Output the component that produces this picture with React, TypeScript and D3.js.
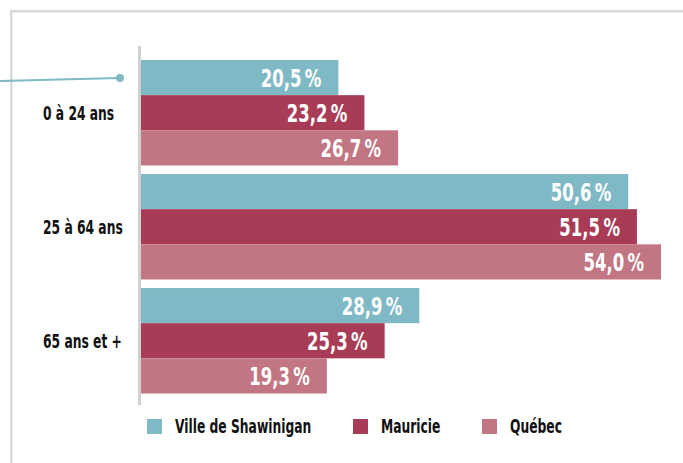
import React from "react";
import * as d3 from "d3";

const categories = ["0 à 24 ans", "25 à 64 ans", "65 ans et +"];
const series = ["Ville de Shawinigan", "Mauricie", "Québec"];
const shawinigan = [20.5, 50.6, 28.9];
const mauricie = [23.2, 51.5, 25.3];
const quebec = [26.7, 54.0, 19.3];
const colors = ["#7fb9c5", "#a83b55", "#c27683"];

const W = 683;
const H = 463;
const FONT = "'DejaVu Sans Condensed', 'DejaVu Sans', sans-serif";

export default function App() {
  const values = [shawinigan, mauricie, quebec];
  const x = d3.scaleLinear().domain([0, 54]).range([141, 661]);
  const y = d3.scaleBand<string>().domain(categories).range([60, 393.5]).paddingInner(0.075).paddingOuter(0);
  const yi = d3.scaleBand<string>().domain(series).range([0, y.bandwidth()]).padding(0);
  const fmt = (v: number) => v.toFixed(1).replace(".", ",") + "\u2009%";

  return (
    <svg width={W} height={H} style={{ position: "absolute", left: 0, top: 0 }}>
      <rect x={0} y={0} width={W} height={H} fill="#fff" />
      {/* frame */}
      <line x1={11.25} y1={11.25} x2={W} y2={11.25} stroke="#d9d9d9" strokeWidth={2.5} />
      <line x1={11.25} y1={10} x2={11.25} y2={H} stroke="#d9d9d9" strokeWidth={2.5} />
      {/* connector */}
      <line x1={0} y1={81} x2={120} y2={78} stroke="#7fb9c5" strokeWidth={2} />
      <circle cx={120} cy={78} r={4} fill="#7fb9c5" />
      {/* bars */}
      {categories.map((c, ci) => (
        <g key={c}>
          {series.map((s, si) => {
            const v = values[si][ci];
            const y0 = (y(c) as number) + (yi(s) as number);
            const bh = yi.bandwidth();
            return (
              <g key={s}>
                <rect x={x(0)} y={y0} width={x(v) - x(0)} height={bh} fill={colors[si]} />
                <text
                  transform={`translate(${x(v) - 17},${y0 + bh / 2 + 9.3}) scale(0.72,1)`}
                  textAnchor="end"
                  fontFamily={FONT}
                  fontWeight="bold"
                  fontSize={25.5}
                  fill="#fff"
                >
                  {fmt(v)}
                </text>
              </g>
            );
          })}
          <text
            transform={`translate(43,${(y(c) as number) + y.bandwidth() / 2 + 7}) scale(0.72,1)`}
            fontFamily={FONT}
            fontWeight="bold"
            fontSize={19}
            fill="#111"
          >
            {c}
          </text>
        </g>
      ))}
      {/* axis line */}
      <line x1={139.5} y1={46} x2={139.5} y2={405} stroke="#d0d0d0" strokeWidth={3} />
      {/* legend */}
      {series.map((s, si) => {
        const lx = [147, 353, 482][si];
        return (
          <g key={s}>
            <rect x={lx} y={419} width={15} height={15} fill={colors[si]} />
            <text
              transform={`translate(${lx + 28},433) scale(0.72,1)`}
              fontFamily={FONT}
              fontWeight="bold"
              fontSize={19}
              fill="#111"
            >
              {s}
            </text>
          </g>
        );
      })}
    </svg>
  );
}
